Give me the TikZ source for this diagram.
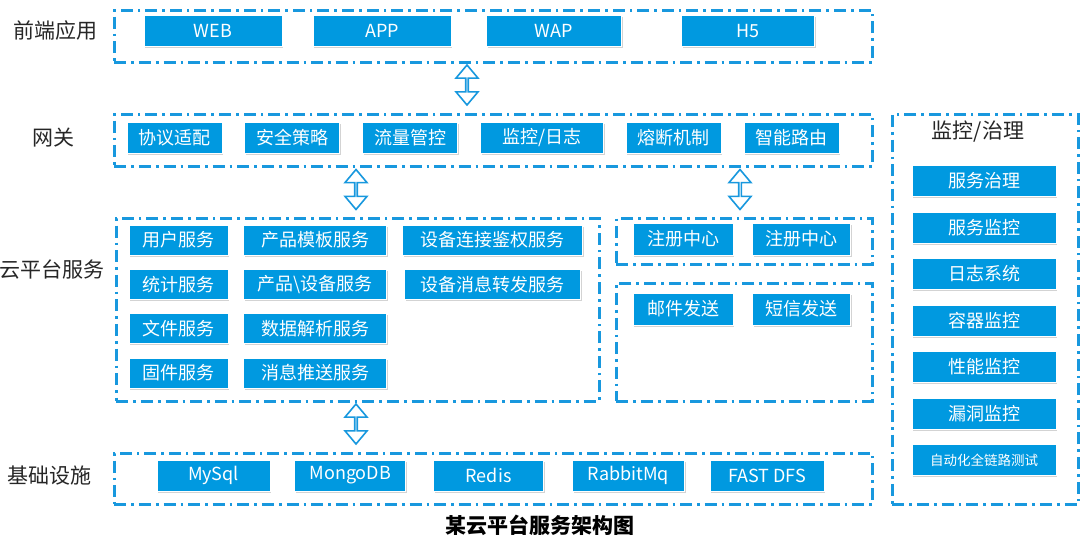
\documentclass[tikz,border=0pt]{standalone}
\usepackage{fontspec}
\setmainfont{Noto Sans CJK SC}
\usetikzlibrary{positioning,shapes.arrows,shadows}
\definecolor{cloudblue}{RGB}{0,153,224}
\definecolor{linkblue}{RGB}{24,152,222}

\begin{document}
\begin{tikzpicture}[x=1pt,y=-1pt,node distance=22pt]
\tikzstyle{layer} = [rectangle, draw=linkblue, line width=2.6pt, dash pattern=on 12pt off 5pt on 2.6pt off 5pt, anchor=north west, inner sep=0pt]
\tikzstyle{service} = [rectangle, fill=cloudblue, draw=white, line width=0.8pt, text=white, minimum height=31pt, inner sep=0pt, font=\fontsize{18}{20}\selectfont, drop shadow={shadow xshift=1.2pt, shadow yshift=-1.5pt, opacity=0.35}]
\tikzstyle{caption} = [text=black!85, font=\fontsize{21}{24}\selectfont]
\tikzstyle{hollow} = [double arrow, draw=linkblue, fill=white, line width=1.6pt, minimum height=40pt, minimum width=22pt, double arrow head extend=6pt, double arrow tip angle=80, inner sep=0pt, shape border rotate=90]

\useasboundingbox (0,0) rectangle (1080,544);

% layers
\node (FrontLayer) [layer, minimum width=758pt, minimum height=52pt] at (113,9) {};
\node (GatewayLayer) [layer, minimum width=758pt, minimum height=52pt] at (113,113) {};
\node (CloudLayer) [layer, minimum width=483pt, minimum height=183pt] at (115,217) {};
\node (RegistryLayer) [layer, minimum width=256pt, minimum height=46pt] at (615,217) {};
\node (MessageLayer) [layer, minimum width=256pt, minimum height=118pt] at (615,282) {};
\node (BaseLayer) [layer, minimum width=758pt, minimum height=51pt] at (113,452) {};
\node (MonitorLayer) [layer, minimum width=186pt, minimum height=390pt] at (891,113) {};

\node (FrontLabel) [caption] at (55,31) {前端应用};
\node (GatewayLabel) [caption] at (53,138) {网关};
\node (CloudLabel) [caption] at (52,270) {云平台服务};
\node (BaseLabel) [caption] at (50,476) {基础设施};
\node (MonitorLabel) [caption] at (978,132) {监控/治理};

% front end
\node (Web) [service, minimum width=138pt] at (213,31) {WEB};
\node (App) [service, minimum width=138pt] at (382,31) {APP};
\node (Wap) [service, minimum width=135pt] at (554,31) {WAP};
\node (HFive) [service, minimum width=133pt] at (748,31) {H5};

% gateway
\node (Adapter) [service, minimum width=95pt] at (174.5,137.5) {协议适配};
\node (Security) [service, minimum width=95pt, right=of Adapter] {安全策略};
\node (Traffic) [service, minimum width=95pt, right=of Security] {流量管控};
\node (Logging) [service, minimum width=123pt, right=of Traffic] {监控/日志};
\node (Breaker) [service, minimum width=95pt, right=of Logging] {熔断机制};
\node (Routing) [service, minimum width=95pt, right=of Breaker] {智能路由};

% cloud services
\node (UserSvc) [service, minimum width=99pt, minimum height=30pt] at (178.5,240) {用户服务};
\node (TemplateSvc) [service, minimum width=143pt, minimum height=30pt, right=15pt of UserSvc] {产品模板服务};
\node (AuthSvc) [service, minimum width=180pt, minimum height=30pt, right=15pt of TemplateSvc] {设备连接鉴权服务};
\node (StatSvc) [service, minimum width=99pt, minimum height=30pt] at (178.5,284.5) {统计服务};
\node (DeviceSvc) [service, minimum width=143pt, minimum height=30pt, right=15pt of StatSvc] {产品\textbackslash 设备服务};
\node (ForwardSvc) [service, minimum width=176pt, minimum height=30pt, right=17pt of DeviceSvc] {设备消息转发服务};
\node (FileSvc) [service, minimum width=99pt, minimum height=30pt] at (178.5,328.5) {文件服务};
\node (ParseSvc) [service, minimum width=143pt, minimum height=30pt, right=15pt of FileSvc] {数据解析服务};
\node (FirmwareSvc) [service, minimum width=99pt, minimum height=30pt] at (178.5,373) {固件服务};
\node (PushSvc) [service, minimum width=143pt, minimum height=30pt, right=15pt of FirmwareSvc] {消息推送服务};

\node (RegistryA) [service, minimum width=100pt, minimum height=32pt] at (683,239) {注册中心};
\node (RegistryB) [service, minimum width=98pt, minimum height=32pt, right=19pt of RegistryA] {注册中心};
\node (Mail) [service, minimum width=100pt, minimum height=32pt] at (683,309) {邮件发送};
\node (Sms) [service, minimum width=98pt, minimum height=32pt, right=19pt of Mail] {短信发送};

% monitoring
\node (Governance) [service, minimum width=144pt] at (984,181) {服务治理};
\node (SvcMonitor) [service, minimum width=144pt, below=14.7pt of Governance] {服务监控};
\node (LogSystem) [service, minimum width=144pt, below=14.7pt of SvcMonitor] {日志系统};
\node (Container) [service, minimum width=144pt, below=14.7pt of LogSystem] {容器监控};
\node (Performance) [service, minimum width=144pt, below=14.7pt of Container] {性能监控};
\node (Vulnerability) [service, minimum width=144pt, below=14.7pt of Performance] {漏洞监控};
\node (ChainTest) [service, minimum width=144pt, below=14.7pt of Vulnerability, font=\fontsize{13.5}{16}\selectfont] {自动化全链路测试};

% infrastructure
\node (MySql) [service, minimum width=113pt] at (213.5,475.5) {MySql};
\node (MongoDB) [service, minimum width=111pt, right=24pt of MySql] {MongoDB};
\node (Redis) [service, minimum width=110pt, right=27pt of MongoDB] {Redis};
\node (RabbitMq) [service, minimum width=112pt, right=28pt of Redis] {RabbitMq};
\node (FastDfs) [service, minimum width=114pt, right=25pt of RabbitMq] {FAST DFS};

% arrows
\node (FrontGateway) [hollow] at (467,85) {};
\node (GatewayCloud) [hollow] at (356,189.5) {};
\node (GatewayRegistry) [hollow] at (740,189.5) {};
\node (CloudBase) [hollow] at (356,424) {};

\node (Title) [font=\fontsize{21}{24}\selectfont\bfseries] at (540,525) {某云平台服务架构图};

\end{tikzpicture}
\end{document}
